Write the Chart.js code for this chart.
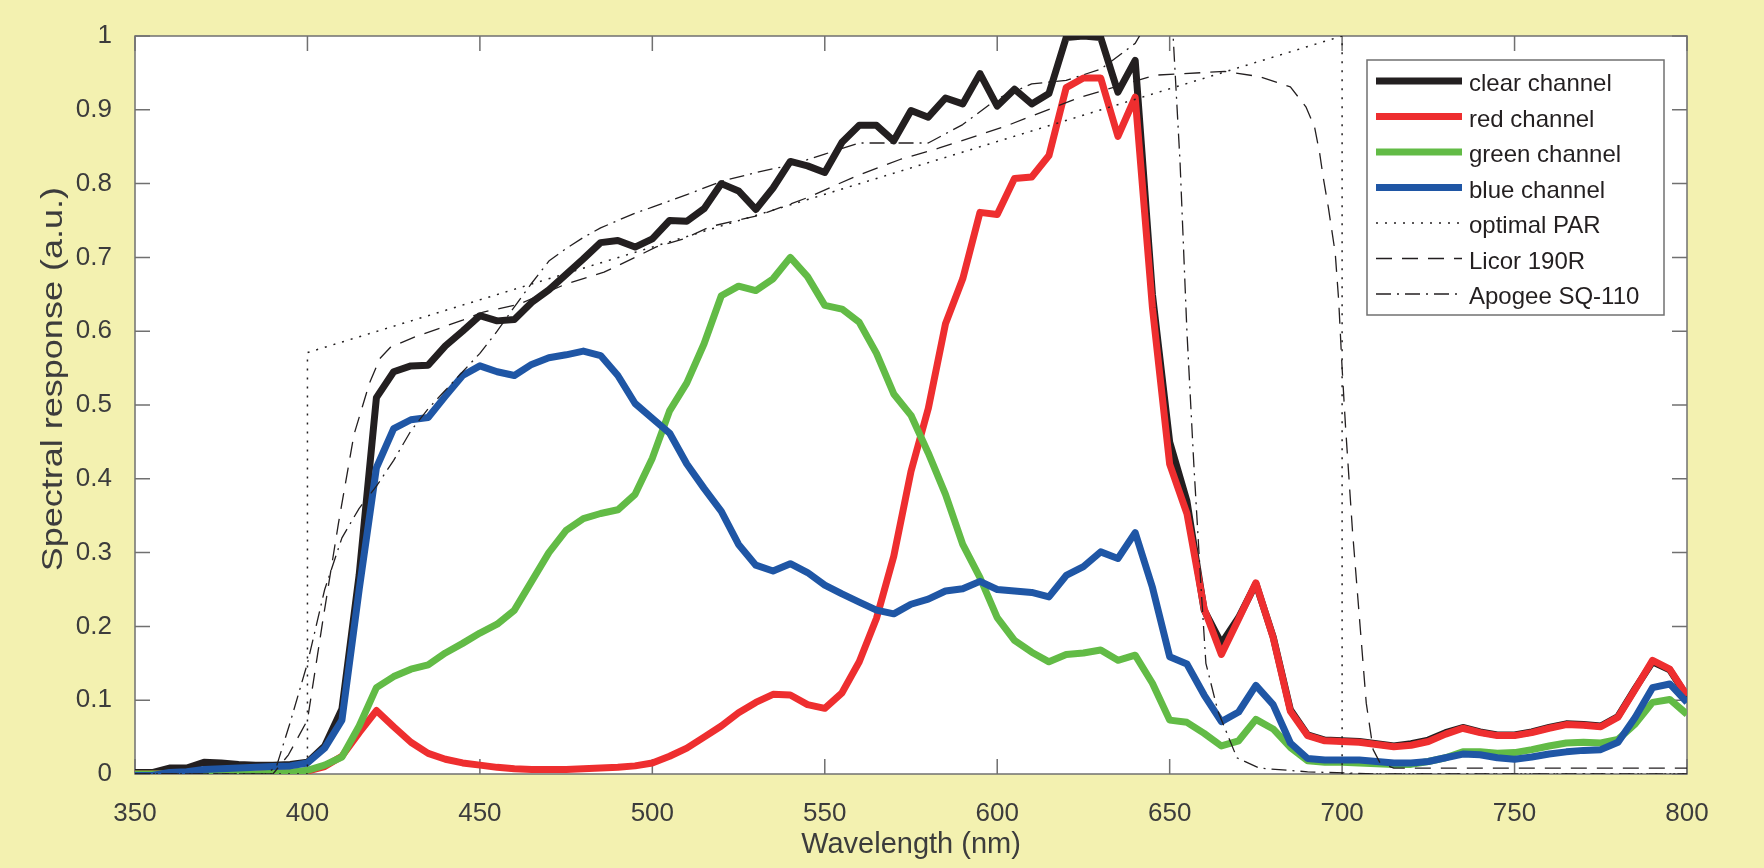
<!DOCTYPE html>
<html>
<head>
<meta charset="utf-8">
<title>Spectral response</title>
<script src="https://cdn.jsdelivr.net/npm/chart.js@4.4.1/dist/chart.umd.min.js"></script>
<style>
    html, body { margin: 0; padding: 0; background: #f3f1b0; }
    #wrap { width: 1764px; height: 868px; position: relative; background: #f3f1b0; }
</style>
</head>
<body>
<div id="wrap"><canvas id="chart"></canvas></div>
<script>
var wavelength = [350, 355, 360, 365, 370, 375, 380, 385, 390, 395,
    400, 405, 410, 415, 420, 425, 430, 435, 440, 445,
    450, 455, 460, 465, 470, 475, 480, 485, 490, 495,
    500, 505, 510, 515, 520, 525, 530, 535, 540, 545,
    550, 555, 560, 565, 570, 575, 580, 585, 590, 595,
    600, 605, 610, 615, 620, 625, 630, 635, 640, 645,
    650, 655, 660, 665, 670, 675, 680, 685, 690, 695,
    700, 705, 710, 715, 720, 725, 730, 735, 740, 745,
    750, 755, 760, 765, 770, 775, 780, 785, 790, 795, 800];

var clearChannel = [0.002, 0.002, 0.008, 0.008, 0.016, 0.015, 0.013, 0.012, 0.012, 0.013,
    0.016, 0.038, 0.088, 0.27, 0.51, 0.545, 0.553, 0.554, 0.58, 0.6,
    0.621, 0.614, 0.616, 0.639, 0.656, 0.677, 0.698, 0.72, 0.723, 0.714,
    0.725, 0.75, 0.749, 0.766, 0.80, 0.79, 0.765, 0.794, 0.83, 0.824,
    0.815, 0.856, 0.879, 0.879, 0.858, 0.899, 0.89, 0.916, 0.908, 0.949,
    0.905, 0.928, 0.908, 0.922, 0.998, 1.0, 0.998, 0.924, 0.967, 0.65,
    0.45, 0.37, 0.222, 0.177, 0.212, 0.258, 0.186, 0.087, 0.053, 0.046,
    0.045, 0.044, 0.041, 0.038, 0.041, 0.046, 0.056, 0.063, 0.057, 0.053,
    0.053, 0.057, 0.063, 0.068, 0.067, 0.065, 0.078, 0.116, 0.152, 0.141, 0.105];

var redChannel = [0, 0, 0, 0, 0, 0, 0, 0, 0.001, 0.002,
    0.004, 0.01, 0.024, 0.056, 0.086, 0.064, 0.043, 0.028, 0.02, 0.015,
    0.012, 0.009, 0.007, 0.006, 0.006, 0.006, 0.007, 0.008, 0.009, 0.011,
    0.015, 0.024, 0.035, 0.05, 0.065, 0.083, 0.097, 0.108, 0.107, 0.094,
    0.089, 0.11, 0.152, 0.211, 0.295, 0.41, 0.495, 0.61, 0.671, 0.761,
    0.758, 0.807, 0.809, 0.838, 0.93, 0.943, 0.943, 0.864, 0.917, 0.632,
    0.42, 0.353, 0.224, 0.162, 0.21, 0.259, 0.185, 0.085, 0.052, 0.045,
    0.044, 0.043, 0.04, 0.037, 0.039, 0.044, 0.054, 0.062, 0.056, 0.052,
    0.052, 0.056, 0.062, 0.067, 0.066, 0.064, 0.077, 0.115, 0.154, 0.142, 0.106];

var greenChannel = [0, 0, 0, 0, 0, 0, 0, 0, 0.001, 0.002,
    0.005, 0.012, 0.023, 0.065, 0.117, 0.132, 0.142, 0.148, 0.164, 0.177,
    0.191, 0.203, 0.222, 0.261, 0.3, 0.33, 0.346, 0.353, 0.358, 0.379,
    0.428, 0.492, 0.53, 0.583, 0.648, 0.661, 0.655, 0.671, 0.70, 0.674,
    0.635, 0.63, 0.612, 0.57, 0.515, 0.486, 0.435, 0.379, 0.311, 0.266,
    0.212, 0.181, 0.165, 0.152, 0.162, 0.164, 0.168, 0.154, 0.161, 0.123,
    0.073, 0.07, 0.055, 0.038, 0.045, 0.074, 0.061, 0.036, 0.018, 0.016,
    0.016, 0.015, 0.014, 0.013, 0.013, 0.017, 0.022, 0.03, 0.03, 0.028,
    0.029, 0.033, 0.038, 0.042, 0.043, 0.042, 0.047, 0.068, 0.097, 0.101, 0.081];

var blueChannel = [-0.002, -0.002, 0.002, 0.003, 0.006, 0.007, 0.008, 0.009, 0.01, 0.011,
    0.015, 0.035, 0.073, 0.25, 0.415, 0.468, 0.48, 0.483, 0.512, 0.54,
    0.553, 0.545, 0.54, 0.555, 0.564, 0.568, 0.573, 0.567, 0.54, 0.502,
    0.482, 0.462, 0.42, 0.387, 0.356, 0.311, 0.283, 0.275, 0.285, 0.273,
    0.256, 0.244, 0.233, 0.222, 0.217, 0.23, 0.237, 0.248, 0.251, 0.261,
    0.25, 0.248, 0.246, 0.24, 0.269, 0.281, 0.301, 0.292, 0.327, 0.253,
    0.159, 0.149, 0.107, 0.071, 0.084, 0.12, 0.094, 0.042, 0.021, 0.019,
    0.019, 0.019, 0.017, 0.015, 0.015, 0.017, 0.022, 0.027, 0.026, 0.022,
    0.02, 0.023, 0.027, 0.03, 0.032, 0.033, 0.043, 0.077, 0.117, 0.122, 0.097];

var parWl = [350, 400, 400, 700, 700, 800];
var parVal = [0, 0, 0.571, 1, 0, 0];

var licorWl = [350, 390, 394.5, 400, 404.5, 409, 413.5, 418, 421, 424,
    431, 445, 451, 461, 475, 486, 495, 501, 509, 517,
    531, 545, 559, 572, 583, 602, 624, 646, 666, 676,
    685, 689.5, 692, 693.5, 694.5, 696, 698, 699, 700, 701,
    703, 705, 707, 709, 711, 715, 800];
var licorVal = [0, 0, 0.026, 0.073, 0.209, 0.34, 0.46, 0.53, 0.563, 0.578,
    0.592, 0.615, 0.626, 0.636, 0.664, 0.68, 0.7, 0.714, 0.725, 0.742,
    0.757, 0.781, 0.81, 0.833, 0.848, 0.877, 0.917, 0.947, 0.952, 0.945,
    0.931, 0.904, 0.877, 0.841, 0.809, 0.768, 0.706, 0.642, 0.55, 0.47,
    0.33, 0.213, 0.096, 0.033, 0.015, 0.008, 0.008];

var apogeeWl = [350, 388, 391, 395, 400, 405, 410, 415, 420, 425,
    430, 435, 440, 445, 450, 455, 460, 465, 470, 475,
    480, 485, 490, 495, 500, 510, 520, 530, 540, 550,
    560, 570, 580, 590, 600, 610, 620, 630, 640, 645,
    650, 651, 653, 655, 657, 659, 660.5, 664, 669.5, 676,
    690, 710, 800];
var apogeeVal = [0, 0, 0.01, 0.07, 0.15, 0.25, 0.32, 0.36, 0.39, 0.425,
    0.465, 0.495, 0.52, 0.545, 0.57, 0.6, 0.633, 0.665, 0.695, 0.712,
    0.727, 0.74, 0.75, 0.76, 0.768, 0.785, 0.803, 0.815, 0.825, 0.84,
    0.855, 0.855, 0.855, 0.88, 0.915, 0.935, 0.94, 0.955, 0.99, 1.03,
    1.03, 1.0, 0.83, 0.6, 0.42, 0.26, 0.15, 0.085, 0.022, 0.008,
    0.003, 0, 0];

var xTickVals = [350, 400, 450, 500, 550, 600, 650, 700, 750, 800];
var xTickLabels = ['350', '400', '450', '500', '550', '600', '650', '700', '750', '800'];
var yTickVals = [0, 0.1, 0.2, 0.3, 0.4, 0.5, 0.6, 0.7, 0.8, 0.9, 1];
var yTickLabels = ['0', '0.1', '0.2', '0.3', '0.4', '0.5', '0.6', '0.7', '0.8', '0.9', '1'];
var yTitle = 'Spectral response (a.u.)';

var textColor = '#3c3c3c';
var frameColor = '#707070';
var fontFamily = '"Liberation Sans", Arial, Helvetica, sans-serif';

function toPoints(xs, ys) {
    return xs.map(function (x, i) { return { x: x, y: ys[i] }; });
}

// white plot area, box and inward ticks on all four sides (matlab style)
var framePlugin = {
    id: 'frame',
    beforeDraw: function (chart) {
        var a = chart.chartArea;
        var ctx = chart.ctx;
        ctx.save();
        ctx.fillStyle = '#ffffff';
        ctx.fillRect(a.left, a.top, a.right - a.left, a.bottom - a.top);
        ctx.restore();
    },
    beforeDatasetsDraw: function (chart) {
        var a = chart.chartArea;
        var ctx = chart.ctx;
        var xs = chart.scales.x;
        var ys = chart.scales.y;
        var len = 15;
        ctx.save();
        ctx.strokeStyle = frameColor;
        ctx.lineWidth = 1.5;
        ctx.beginPath();
        xs.ticks.forEach(function (t) {
            var px = xs.getPixelForValue(t.value);
            ctx.moveTo(px, a.bottom);
            ctx.lineTo(px, a.bottom - len);
            ctx.moveTo(px, a.top);
            ctx.lineTo(px, a.top + len);
        });
        ys.ticks.forEach(function (t) {
            var py = ys.getPixelForValue(t.value);
            ctx.moveTo(a.left, py);
            ctx.lineTo(a.left + len, py);
            ctx.moveTo(a.right, py);
            ctx.lineTo(a.right - len, py);
        });
        ctx.stroke();
        ctx.strokeRect(a.left, a.top, a.right - a.left, a.bottom - a.top);
        ctx.restore();
    },
    afterDraw: function (chart) {
        var a = chart.chartArea;
        var ctx = chart.ctx;
        var boxW = 297, boxH = 255;
        var bx = a.right - 23 - boxW;
        var by = a.top + 24;
        ctx.save();
        ctx.fillStyle = '#ffffff';
        ctx.fillRect(bx, by, boxW, boxH);
        ctx.strokeStyle = frameColor;
        ctx.lineWidth = 1.5;
        ctx.strokeRect(bx, by, boxW, boxH);
        ctx.font = '24px ' + fontFamily;
        ctx.textBaseline = 'alphabetic';
        ctx.textAlign = 'left';
        chart.data.datasets.forEach(function (ds, i) {
            var cy = by + 21 + i * 35.5;
            ctx.beginPath();
            ctx.setLineDash(ds.borderDash || []);
            ctx.lineWidth = ds.borderWidth;
            ctx.strokeStyle = ds.borderColor;
            ctx.moveTo(bx + 9, cy);
            ctx.lineTo(bx + 95, cy);
            ctx.stroke();
            ctx.setLineDash([]);
            ctx.fillStyle = '#231f20';
            ctx.fillText(ds.label, bx + 102, cy + 10);
        });
        ctx.restore();

        // y title, stretched along its length like the original figure
        ctx.save();
        ctx.translate(54, a.top + (a.bottom - a.top) * 0.465);
        ctx.rotate(-Math.PI / 2);
        ctx.scale(1.2, 1);
        ctx.font = '30px ' + fontFamily;
        ctx.fillStyle = textColor;
        ctx.textAlign = 'center';
        ctx.textBaseline = 'middle';
        ctx.fillText(yTitle, 0, 0);
        ctx.restore();
    }
};

Chart.defaults.font.family = fontFamily;

var ctx = document.getElementById('chart').getContext('2d');
var chart = new Chart(ctx, {
    type: 'line',
    data: {
        datasets: [{
            label: 'clear channel',
            data: toPoints(wavelength, clearChannel),
            borderColor: '#231f20',
            borderWidth: 7,
            order: 7
        }, {
            label: 'red channel',
            data: toPoints(wavelength, redChannel),
            borderColor: '#ee2e2f',
            borderWidth: 7,
            order: 6
        }, {
            label: 'green channel',
            data: toPoints(wavelength, greenChannel),
            borderColor: '#62bb46',
            borderWidth: 7,
            order: 5
        }, {
            label: 'blue channel',
            data: toPoints(wavelength, blueChannel),
            borderColor: '#1f56a5',
            borderWidth: 7,
            order: 4
        }, {
            label: 'optimal PAR',
            data: toPoints(parWl, parVal),
            borderColor: '#231f20',
            borderWidth: 1.5,
            borderDash: [2, 7],
            order: 3
        }, {
            label: 'Licor 190R',
            data: toPoints(licorWl, licorVal),
            borderColor: '#231f20',
            borderWidth: 1.3,
            borderDash: [16, 10],
            order: 2
        }, {
            label: 'Apogee SQ-110',
            data: toPoints(apogeeWl, apogeeVal),
            borderColor: '#231f20',
            borderWidth: 1.3,
            borderDash: [15, 6, 2, 6],
            order: 1
        }]
    },
    options: {
        responsive: true,
        maintainAspectRatio: false,
        animation: false,
        layout: { padding: { left: 0, top: 36, right: 77, bottom: 0 } },
        elements: {
            point: { radius: 0 },
            line: { tension: 0, fill: false, borderJoinStyle: 'round' }
        },
        plugins: {
            legend: { display: false },
            tooltip: { enabled: false }
        },
        scales: {
            x: {
                type: 'linear',
                min: 350,
                max: 800,
                grid: { display: false },
                border: { display: false },
                afterBuildTicks: function (scale) {
                    scale.ticks = xTickVals.map(function (v) { return { value: v }; });
                },
                afterFit: function (scale) { scale.height = 94; },
                ticks: {
                    color: textColor,
                    padding: 16,
                    autoSkip: false,
                    maxRotation: 0,
                    font: { size: 26 },
                    callback: function (value, index) { return xTickLabels[index]; }
                },
                title: {
                    display: true,
                    text: 'Wavelength (nm)',
                    color: textColor,
                    font: { size: 29 },
                    padding: { top: 0, bottom: 6 }
                }
            },
            y: {
                min: 0,
                max: 1,
                grid: { display: false },
                border: { display: false },
                afterBuildTicks: function (scale) {
                    scale.ticks = yTickVals.map(function (v) { return { value: v }; });
                },
                afterFit: function (scale) { scale.width = 135; },
                ticks: {
                    color: textColor,
                    padding: 15,
                    font: { size: 26 },
                    callback: function (value, index) { return yTickLabels[index]; }
                },
                title: { display: false }
            }
        }
    },
    plugins: [framePlugin]
});
</script>
</body>
</html>
